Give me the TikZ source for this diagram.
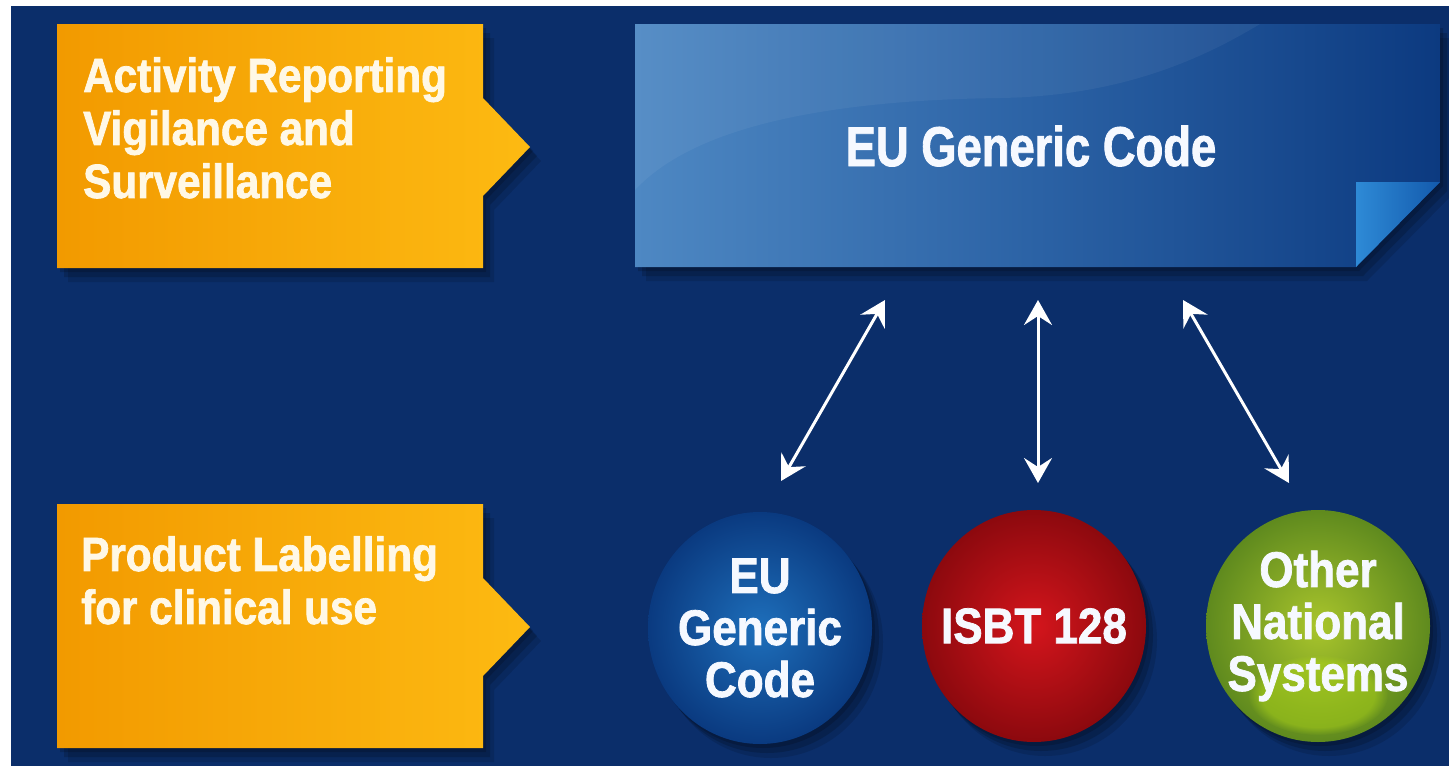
\documentclass[tikz,border=0pt]{standalone}
\usepackage{fontspec}
\setmainfont{Liberation Sans}
\newfontfamily\condfont[FakeStretch=0.88,BoldFeatures={FakeBold=1.5}]{Liberation Sans}
\newfontfamily\bannerfont[FakeStretch=0.81,BoldFeatures={FakeBold=1.5}]{Liberation Sans}
\usetikzlibrary{arrows.meta,shapes.geometric,shadows,fadings}
\definecolor{navybg}{HTML}{0B2E6A}
\definecolor{orL}{HTML}{F29A00}
\definecolor{orR}{HTML}{FDBA12}
\definecolor{bnL}{HTML}{4E88C3}
\definecolor{bnM}{HTML}{2B62A5}
\definecolor{bnR}{HTML}{0C3A80}
\definecolor{foldA}{HTML}{2E8AD6}
\definecolor{foldB}{HTML}{135AAC}
\definecolor{bluein}{HTML}{1E6FBB}
\definecolor{blueout}{HTML}{0A3A80}
\definecolor{redin}{HTML}{D4151C}
\definecolor{redout}{HTML}{8C090E}
\definecolor{grnin}{HTML}{A9C52C}
\definecolor{grnout}{HTML}{5F8A1E}
\definecolor{cream}{HTML}{FFF8E6}
\definecolor{snow}{HTML}{F6F9FF}
\tikzset{
  softshadow/.style={
    general shadow={fill=black,opacity=.16,shadow xshift=3pt,shadow yshift=-4pt},
    general shadow={fill=black,opacity=.16,shadow xshift=7pt,shadow yshift=-9pt},
    general shadow={fill=black,opacity=.12,shadow xshift=11pt,shadow yshift=-14pt}},
  orangeshape/.style={left color=orL,right color=orR,softshadow},
  sidetext/.style={anchor=north west,inner sep=0pt,align=left,text=cream,
    font=\condfont\bfseries\fontsize{48}{53}\selectfont},
  ball/.style={ellipse,minimum width=224pt,minimum height=232pt,inner sep=0pt,softshadow},
  balltext/.style={inner sep=0pt,align=center,text=snow,
    font=\condfont\bfseries\fontsize{50}{52}\selectfont},
  dblarrow/.style={white,line width=3pt,
    {Stealth[length=25pt,width=28pt,inset=9pt]}-{Stealth[length=25pt,width=28pt,inset=9pt]}}
}
\begin{document}
\begin{tikzpicture}[x=1pt,y=-1pt]
\useasboundingbox (0,0) rectangle (1449,766);
\fill[white] (0,0) rectangle (1449,766);
\fill[navybg] (11,6) rectangle (1449,766);

% orange boxes
\path[orangeshape] (57,24) -- (483,24) -- (483,98) -- (530,147) -- (483,196) -- (483,268) -- (57,268) -- cycle;
\node[sidetext] (act) at (83,57) {Activity Reporting\\Vigilance and\\Surveillance};
\path[orangeshape] (57,504) -- (483,504) -- (483,578) -- (530,627) -- (483,676) -- (483,748) -- (57,748) -- cycle;
\node[sidetext] (lab) at (81,536) {Product Labelling\\for clinical use};

% banner
\path[left color=bnL,right color=bnR,middle color=bnM,softshadow]
  (635,24) -- (1440,24) -- (1440,182) -- (1356,267) -- (635,267) -- cycle;
\fill[white,opacity=.05] (635,24) -- (635,190) .. controls (700,120) and (850,100) .. (1000,98)
  .. controls (1120,96) and (1200,60) .. (1260,24) -- cycle;
\path[left color=foldA,right color=foldB] (1356,182) -- (1440,182) -- (1356,267) -- cycle;
\node[inner sep=0pt,anchor=base,text=snow,font=\bannerfont\bfseries\fontsize{56}{60}\selectfont] (gen) at (1031,166) {EU Generic Code};

% circles
\node[ball,shading=radial,inner color=bluein,outer color=blueout] (c1) at (760,628) {};
\node[balltext] (c1t) at (c1.center) {EU\\Generic\\Code};
\node[ball,shading=radial,inner color=redin,outer color=redout] (c2) at (1034,626) {};
\node[balltext] (c2t) at (c2.center) {ISBT 128};
\node[ball,shading=radial,inner color=grnin,outer color=grnout] (c3) at (1318,626) {};
\fill[yellow!70!green,opacity=.45,path fading=circle with fuzzy edge 20 percent] (1318,695) ellipse (70pt and 40pt);
\node[balltext] (c3t) at (c3.center) {Other\\National\\Systems};

% arrows
\coordinate (u1) at (885,300);
\coordinate (d1) at (781,481);
\coordinate (u2) at (1038,300);
\coordinate (d2) at (1038,483);
\coordinate (u3) at (1183,300);
\coordinate (d3) at (1289,483);
\draw[dblarrow] (u1) -- (d1);
\draw[dblarrow] (u2) -- (d2);
\draw[dblarrow] (u3) -- (d3);
\end{tikzpicture}
\end{document}
